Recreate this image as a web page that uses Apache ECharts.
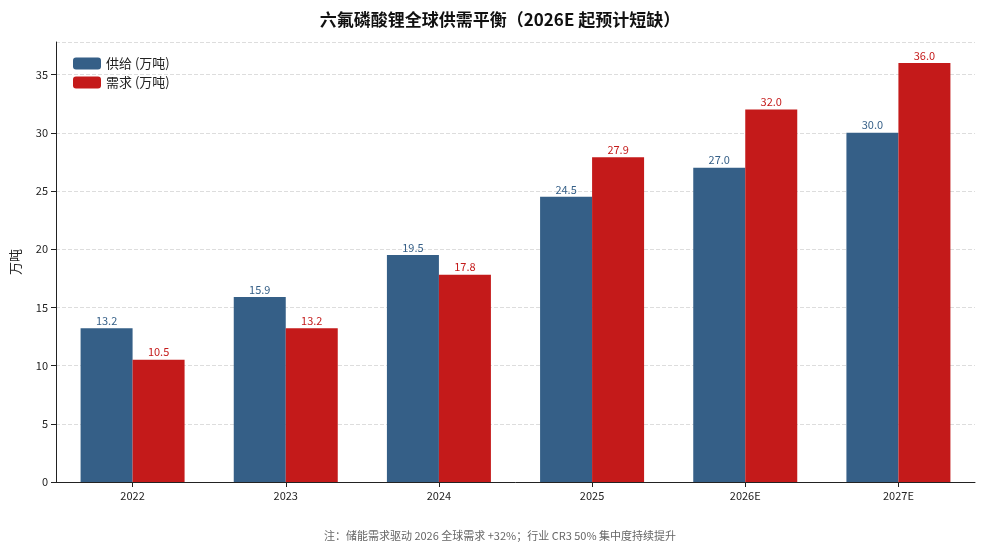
<!DOCTYPE html>
<html><head><meta charset="utf-8">
<script src="https://cdn.jsdelivr.net/npm/echarts@6/dist/echarts.min.js"></script>
<style>html,body{margin:0;padding:0;background:#fff}#c{width:1000px;height:554px}</style>
</head><body><div id="c"></div>
<script>
var years = ['2022', '2023', '2024', '2025', '2026E', '2027E'];
var supply = [13.2, 15.9, 19.5, 24.5, 27.0, 30.0];
var demand = [10.5, 13.2, 17.8, 27.9, 32.0, 36.0];
var font = '"Noto Sans CJK SC", "Noto Sans", sans-serif';

var chart = echarts.init(document.getElementById('c'));
chart.setOption({
    textStyle: { fontFamily: font },
    title: {
        text: '六氟磷酸锂全球供需平衡（2026E 起预计短缺）',
        left: 'center', top: 6,
        textStyle: { fontSize: 17, fontWeight: 'bold', color: '#111', fontFamily: font }
    },
    graphic: [{
        type: 'text', left: 'center', top: 530,
        style: { text: '注：储能需求驱动 2026 全球需求 +32%；行业 CR3 50% 集中度持续提升', fill: '#666', fontSize: 11, fontFamily: font }
    }],
    legend: {
        left: 68, top: 52, orient: 'vertical', itemGap: 6,
        itemWidth: 28, itemHeight: 12,
        textStyle: { fontSize: 13, color: '#222' },
        data: ['供给 (万吨)', '需求 (万吨)']
    },
    grid: { left: 56, right: 25, top: 42, bottom: 72 },
    xAxis: {
        type: 'category', data: years,
        axisLine: { lineStyle: { color: '#222' } },
        axisTick: { show: true, alignWithLabel: true, lineStyle: { color: '#222' } },
        axisLabel: { color: '#222', fontSize: 11 }
    },
    yAxis: {
        type: 'value', min: 0, max: 37.8, interval: 5,
        name: '万吨', nameLocation: 'middle', nameGap: 34,
        nameTextStyle: { fontSize: 13, color: '#222' },
        axisLine: { show: true, lineStyle: { color: '#222' } },
        axisTick: { show: true, lineStyle: { color: '#222' } },
        axisLabel: { color: '#222', fontSize: 11, showMaxLabel: false },
        splitLine: { lineStyle: { type: 'dashed', color: '#ddd' } }
    },
    series: [{
        name: '供给 (万吨)', type: 'bar', data: supply,
        barWidth: 52, barGap: '0%',
        itemStyle: { color: '#355f87' },
        label: { show: true, position: 'top', distance: 2, color: '#355f87', fontSize: 11, formatter: function (p) { return p.value.toFixed(1); } }
    }, {
        name: '需求 (万吨)', type: 'bar', data: demand,
        barWidth: 52,
        itemStyle: { color: '#c41a1a' },
        label: { show: true, position: 'top', distance: 2, color: '#c41a1a', fontSize: 11, formatter: function (p) { return p.value.toFixed(1); } }
    }]
});
</script></body></html>
